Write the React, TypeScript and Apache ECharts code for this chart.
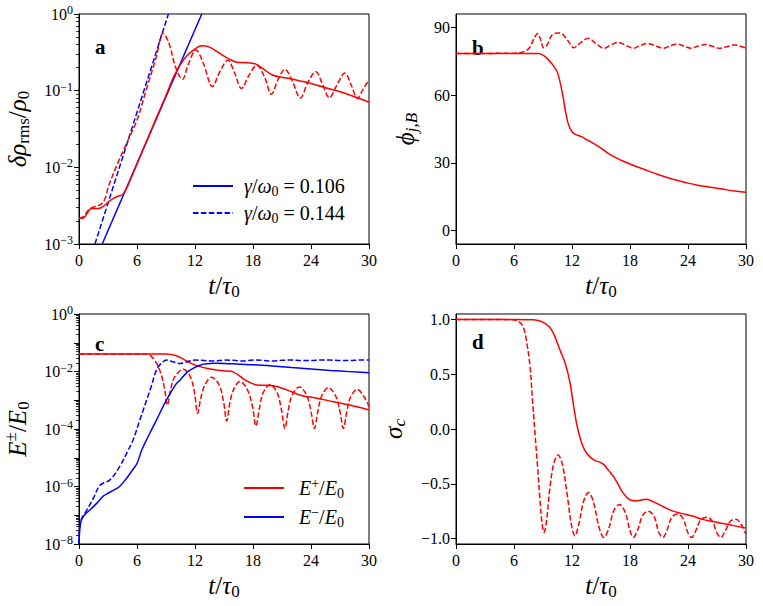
import React, { useEffect, useRef } from "react";
import * as echarts from "echarts";

// ---------- Panel a: delta rho_rms / rho_0 (log) ----------
const aSolidT = [0, 0.5, 1.0, 1.3, 2.0, 2.5, 3.0, 3.5, 4.0, 4.5, 5.0, 6, 7, 8, 9, 10, 11, 12, 12.7, 13.5, 14.5, 15.5, 16.5, 17.5, 18.3, 19, 20, 21, 22, 23, 24, 25, 26, 27, 28, 29, 30];
const aSolidV = [2.16e-3, 2.2e-3, 2.7e-3, 2.9e-3, 2.9e-3, 3.1e-3, 3.5e-3, 3.9e-3, 4.2e-3, 4.4e-3, 5.6e-3, 1.11e-2, 2.21e-2, 4.38e-2, 8.67e-2, 0.172, 0.27, 0.35, 0.385, 0.37, 0.31, 0.26, 0.233, 0.232, 0.222, 0.195, 0.16, 0.15, 0.142, 0.133, 0.124, 0.114, 0.105, 0.097, 0.088, 0.079, 0.0705];
const aDashT = [0, 0.5, 1.0, 1.7, 2.3, 2.8, 3.0, 4.0, 5.0, 6.0, 7.0, 8.0, 8.7, 9.3, 10.0, 10.7, 11.3, 12.1, 12.9, 13.8, 14.6, 15.4, 16.1, 16.8, 17.6, 18.4, 19.2, 19.9, 20.6, 21.3, 22.1, 22.9, 23.7, 24.5, 25.2, 25.9, 26.7, 27.5, 28.2, 28.8, 29.4, 30];
const aDashV = [2.16e-3, 2.3e-3, 2.8e-3, 3.1e-3, 3.3e-3, 4.2e-3, 5.4e-3, 1.13e-2, 2.16e-2, 4.14e-2, 0.107, 0.277, 0.56, 0.42, 0.2, 0.14, 0.22, 0.34, 0.22, 0.113, 0.18, 0.25, 0.17, 0.107, 0.16, 0.215, 0.15, 0.09, 0.14, 0.19, 0.13, 0.08, 0.13, 0.177, 0.12, 0.081, 0.12, 0.17, 0.115, 0.079, 0.105, 0.138];
const fit106T = [2.4, 12.7];
const fit106V = [1e-3, 1];
const fit144T = [1.65, 9.25];
const fit144V = [1e-3, 1];

// ---------- Panel b: phi_{j,B} ----------
const bSolidT = [0, 8.5, 9.0, 9.5, 10.0, 10.5, 11.0, 11.3, 11.6, 12.0, 12.4, 13.0, 13.5, 14, 15, 16, 17, 18, 19, 20, 21, 22, 23, 24, 25, 26, 27, 28, 29, 30];
const bSolidV = [78.5, 78.5, 77.8, 76.0, 73.5, 70.0, 61.0, 53.5, 47.5, 43.8, 42.5, 41.6, 40.3, 39.2, 36.5, 33.5, 31.3, 29.5, 27.8, 26.2, 24.7, 23.3, 22.1, 21.0, 20.1, 19.4, 18.7, 18.0, 17.4, 16.9];
const bDashT = [0, 6, 7, 7.6, 8.1, 8.45, 8.8, 9.05, 9.4, 9.9, 10.5, 11.0, 11.6, 12.2, 12.9, 13.7, 14.5, 15.3, 16.0, 16.8, 17.6, 18.35, 19.0, 19.8, 20.6, 21.45, 22.1, 22.9, 23.6, 24.3, 25.0, 25.8, 26.5, 27.2, 28.0, 28.9, 29.5, 30];
const bDashV = [78.5, 78.6, 79.3, 81, 85.5, 87.4, 84, 81, 82, 86.5, 87.6, 87.2, 84, 81, 83.3, 85.2, 82.8, 80.8, 82.2, 83.4, 82, 80.8, 81.9, 83, 81.9, 80.8, 81.8, 82.7, 81.7, 80.8, 81.7, 82.5, 81.7, 80.8, 81.5, 82.3, 81.6, 80.9];

// ---------- Panel c: E+/E0 and E-/E0 (log) ----------
const cPlusT = [0, 9, 10, 10.8, 11.5, 12.5, 13.2, 14.2, 15.0, 16.0, 17.2, 18.4, 19.3, 20.1, 21.5, 22.9, 24.5, 26.3, 28, 30];
const cPlusV = [0.0405, 0.0405, 0.036, 0.027, 0.02, 0.0148, 0.0129, 0.0112, 0.0105, 0.0095, 0.005, 0.0034, 0.0033, 0.0032, 0.0023, 0.0015, 0.0012, 0.00089, 0.00068, 0.00046];
const cPlusDashT = [0, 7.0, 7.5, 8.0, 8.5, 8.85, 9.15, 9.45, 9.9, 10.8, 11.5, 11.95, 12.27, 12.6, 13.0, 13.7, 14.5, 14.95, 15.28, 15.6, 16.0, 16.65, 17.4, 17.95, 18.3, 18.65, 19.05, 19.76, 20.5, 20.95, 21.3, 21.65, 22.05, 22.8, 23.55, 24.0, 24.35, 24.7, 25.1, 25.8, 26.55, 27.0, 27.35, 27.7, 28.1, 28.8, 29.5, 30];
const cPlusDashV = [0.0405, 0.0405, 0.033, 0.02, 0.008, 0.0025, 0.00068, 0.0022, 0.0065, 0.012, 0.0068, 0.0018, 0.00035, 0.0012, 0.0033, 0.0063, 0.0034, 0.0009, 0.00019, 0.0008, 0.0024, 0.0045, 0.0024, 0.0006, 0.000126, 0.0005, 0.0018, 0.0035, 0.0018, 0.00045, 0.000105, 0.00045, 0.0015, 0.0029, 0.0015, 0.0004, 0.000105, 0.0004, 0.0014, 0.00275, 0.0014, 0.0004, 0.000105, 0.0004, 0.0013, 0.0024, 0.0013, 0.0006];
const cMinusT = [0, 0.05, 0.15, 0.3, 0.6, 1.0, 1.5, 2.0, 2.5, 3.0, 3.5, 4.2, 5.0, 5.5, 6.0, 6.5, 7.0, 7.5, 8.0, 9.0, 10.0, 10.45, 11.2, 11.8, 12.5, 13.2, 14.0, 15, 16, 18, 20, 22, 24, 26, 28, 30];
const cMinusV = [1e-8, 2.5e-8, 5e-8, 7.5e-8, 1.05e-7, 1.4e-7, 2.0e-7, 3.0e-7, 4.6e-7, 5.8e-7, 7.2e-7, 1.0e-6, 2.1e-6, 3.6e-6, 6.3e-6, 1.9e-5, 4.3e-5, 9.3e-5, 2e-4, 9.5e-4, 3.5e-3, 5e-3, 9.5e-3, 0.0129, 0.0165, 0.0185, 0.0192, 0.019, 0.0185, 0.0172, 0.0155, 0.0137, 0.0123, 0.0109, 0.0099, 0.0091];
const cMinusDashT = [0, 0.05, 0.15, 0.3, 0.8, 1.5, 2.17, 3.2, 4.2, 5.0, 5.6, 6.3, 7.0, 7.5, 8.0, 8.5, 9.07, 9.7, 10.45, 11.2, 12, 13, 14, 15, 16, 17, 18, 19, 20, 21, 22, 23, 24, 25, 26, 27, 28, 29, 30];
const cMinusDashV = [1e-8, 2.7e-8, 5.5e-8, 8e-8, 1.5e-7, 4e-7, 1.1e-6, 1.7e-6, 4.9e-6, 1.6e-5, 4.2e-5, 2.1e-4, 1.02e-3, 3.2e-3, 0.0112, 0.019, 0.025, 0.022, 0.019, 0.022, 0.025, 0.024, 0.023, 0.025, 0.0245, 0.023, 0.025, 0.0245, 0.023, 0.0245, 0.025, 0.024, 0.024, 0.025, 0.025, 0.024, 0.024, 0.025, 0.025];

// ---------- Panel d: sigma_c ----------
const dSolidT = [0, 8.0, 8.5, 9.0, 9.7, 10.2, 10.76, 11.3, 11.8, 12.15, 12.5, 12.9, 13.3, 13.8, 14.3, 14.8, 15.3, 15.8, 16.3, 16.8, 17.3, 17.8, 18.35, 19.0, 19.7, 20.5, 21.4, 22.3, 23.2, 24.5, 25.5, 26.6, 28.3, 30];
const dSolidV = [1.0, 0.998, 0.99, 0.975, 0.93, 0.85, 0.72, 0.6, 0.42, 0.22, 0.04, -0.1, -0.19, -0.25, -0.285, -0.3, -0.325, -0.38, -0.435, -0.51, -0.586, -0.635, -0.656, -0.652, -0.641, -0.668, -0.708, -0.745, -0.768, -0.795, -0.825, -0.845, -0.875, -0.905];
const dDashT = [0, 5.9, 6.5, 6.96, 7.3, 7.66, 7.9, 8.17, 8.45, 8.69, 8.9, 9.1, 9.35, 9.7, 10.1, 10.55, 11.0, 11.5, 11.95, 12.3, 12.7, 13.2, 13.7, 14.2, 14.8, 15.3, 15.8, 16.3, 16.9, 17.5, 18.0, 18.35, 18.8, 19.3, 19.9, 20.5, 21.0, 21.4, 21.8, 22.3, 22.9, 23.5, 24.0, 24.38, 24.8, 25.3, 25.93, 26.5, 27.0, 27.4, 27.85, 28.4, 28.97, 29.5, 30];
const dDashV = [1.0, 0.998, 0.98, 0.93, 0.8, 0.57, 0.28, -0.04, -0.36, -0.65, -0.86, -0.945, -0.85, -0.55, -0.32, -0.237, -0.32, -0.6, -0.88, -0.975, -0.87, -0.66, -0.58, -0.66, -0.9, -0.99, -0.91, -0.75, -0.69, -0.76, -0.93, -0.99, -0.92, -0.79, -0.75, -0.8, -0.95, -0.99, -0.93, -0.81, -0.775, -0.82, -0.95, -0.99, -0.93, -0.83, -0.805, -0.84, -0.95, -0.99, -0.93, -0.84, -0.823, -0.87, -0.96];

// ---------- Tick values ----------
const bTicks = [0, 30, 60, 90];
const dTicks = [-1.0, -0.5, 0.0, 0.5, 1.0];
const minorMantissas = [2, 3, 4, 5, 6, 7, 8, 9];
const aDecades = [-3, -2, -1];
const cDecades = [-8, -7, -6, -5, -4, -3, -2, -1];

const FONT = "'Liberation Serif', 'DejaVu Serif', serif";
const RED = "#ff0000";
const BLUE = "#0000ff";
const DASH = [5.5, 2.4];

const zip = (t: number[], v: number[]) => t.map((x, i) => [x, v[i]]);
const minorLogPositions = (decades: number[]) =>
  decades.flatMap((d) => minorMantissas.map((m) => d + Math.log10(m)));

const NS = 25; // axis-name font size
const nameRich = {
  i: { fontFamily: FONT, fontStyle: "italic", fontSize: NS, lineHeight: 30, color: "#000" },
  n: { fontFamily: FONT, fontSize: NS, lineHeight: 30, color: "#000" },
  s: { fontFamily: FONT, fontSize: 17, lineHeight: 19, verticalAlign: "bottom", color: "#000" },
  si: { fontFamily: FONT, fontStyle: "italic", fontSize: 17, lineHeight: 19, verticalAlign: "bottom", color: "#000" },
  sup: { fontFamily: FONT, fontSize: 17, lineHeight: 19, verticalAlign: "top", color: "#000" },
};

const logRich = {
  b: { fontFamily: FONT, fontSize: 16, lineHeight: 20, color: "#000" },
  e: { fontFamily: FONT, fontSize: 12, lineHeight: 12, verticalAlign: "top", color: "#000" },
};

const logFmt = (onlyEven: boolean) => (v: number) => {
  const e = Math.round(Math.log10(v));
  if (onlyEven && e % 2 !== 0) return "";
  return `{b|10}{e|${e < 0 ? "\u2212" + -e : e}}`;
};

const grids = [
  { left: 79, top: 14, width: 290, height: 230 },
  { left: 456, top: 14, width: 290, height: 230 },
  { left: 79, top: 314, width: 290, height: 230 },
  { left: 456, top: 314, width: 290, height: 230 },
];

export default function App() {
  const ref = useRef<HTMLDivElement>(null);
  useEffect(() => {
    if (!ref.current) return;
    const chart = echarts.init(ref.current, null, { renderer: "svg" });

    const axisLine = { show: true, onZero: false, lineStyle: { color: "#000", width: 1 } };
    const axisTick = { show: true, length: 5, lineStyle: { color: "#000", width: 1 } };
    const tickLabel = { color: "#000", fontFamily: FONT, fontSize: 16 };

    const xAxes = grids.map((_, gi) => ({
      type: "value",
      gridIndex: gi,
      min: 0,
      max: 30,
      interval: 6,
      axisLine,
      axisTick,
      splitLine: { show: false },
      axisLabel: { ...tickLabel, margin: 8 },
      name: "{i|t}{n|/}{i|τ}{s|0}",
      nameLocation: "middle",
      nameGap: 26,
      nameTextStyle: { rich: nameRich },
    }));

    const minorAxis = (gi: number, lo: number, decades: number[]) => ({
      type: "value",
      gridIndex: gi,
      min: lo,
      max: 0,
      position: "left",
      axisLine: { show: false },
      axisTick: { show: true, length: 3, lineStyle: { color: "#000", width: 0.8 }, customValues: minorLogPositions(decades) },
      axisLabel: { show: false },
      splitLine: { show: false },
    });

    const yAxes = [
      {
        type: "log",
        gridIndex: 0,
        min: 1e-3,
        max: 1,
        logBase: 10,
        axisLine,
        axisTick,
        splitLine: { show: false },
        axisLabel: { formatter: logFmt(false), rich: logRich, margin: 6 },
        name: "{i|δρ}{s|rms}{n|/}{i|ρ}{s|0}",
        nameLocation: "middle",
        nameRotate: 90,
        nameGap: 47,
        nameTextStyle: { rich: nameRich },
      },
      {
        type: "value",
        gridIndex: 1,
        min: -6,
        max: 96,
        axisLine,
        axisTick: { ...axisTick, customValues: bTicks },
        splitLine: { show: false },
        axisLabel: { ...tickLabel, margin: 6, customValues: bTicks },
        name: "{i|ϕ}{si|j,B}",
        nameLocation: "middle",
        nameRotate: 90,
        nameGap: 36,
        nameTextStyle: { rich: nameRich },
      },
      {
        type: "log",
        gridIndex: 2,
        min: 1e-8,
        max: 1,
        logBase: 10,
        axisLine,
        axisTick,
        splitLine: { show: false },
        axisLabel: { formatter: logFmt(true), rich: logRich, margin: 6 },
        name: "{i|E}{sup|±}{n|/}{i|E}{s|0}",
        nameLocation: "middle",
        nameRotate: 90,
        nameGap: 47,
        nameTextStyle: { rich: nameRich },
      },
      {
        type: "value",
        gridIndex: 3,
        min: -1.05,
        max: 1.05,
        axisLine,
        axisTick: { ...axisTick, customValues: dTicks },
        splitLine: { show: false },
        axisLabel: {
          ...tickLabel,
          margin: 6,
          customValues: dTicks,
          formatter: (v: number) => (v < -1e-9 ? "\u2212" : "") + Math.abs(v).toFixed(1),
        },
        name: "{i|σ}{si|c}",
        nameLocation: "middle",
        nameRotate: 90,
        nameGap: 48,
        nameTextStyle: { rich: nameRich },
      },
      minorAxis(0, -3, aDecades),
      minorAxis(2, -8, cDecades),
    ];

    const line = (name: string, gi: number, data: number[][], color: string, dashed: boolean, z = 2) => ({
      type: "line",
      name,
      xAxisIndex: gi,
      yAxisIndex: gi,
      data,
      symbol: "none",
      smooth: 0.35,
      z,
      lineStyle: { color, width: 1.5, type: dashed ? DASH : "solid" },
      itemStyle: { color },
    });

    const series = [
      { ...line("fit106", 0, zip(fit106T, fit106V), BLUE, false), smooth: false },
      { ...line("fit144", 0, zip(fit144T, fit144V), BLUE, true), smooth: false },
      line("aSolid", 0, zip(aSolidT, aSolidV), RED, false, 3),
      line("aDash", 0, zip(aDashT, aDashV), RED, true, 3),
      line("bSolid", 1, zip(bSolidT, bSolidV), RED, false),
      line("bDash", 1, zip(bDashT, bDashV), RED, true),
      line("Eplus", 2, zip(cPlusT, cPlusV), RED, false),
      line("EplusDash", 2, zip(cPlusDashT, cPlusDashV), RED, true),
      line("Eminus", 2, zip(cMinusT, cMinusV), BLUE, false),
      line("EminusDash", 2, zip(cMinusDashT, cMinusDashV), BLUE, true),
      line("dSolid", 3, zip(dSolidT, dSolidV), RED, false),
      line("dDash", 3, zip(dDashT, dDashV), RED, true),
    ];

    const LS = 20;
    const legRich = {
      g: { width: 6 },
      g2: { width: 10 },
      i: { fontFamily: FONT, fontStyle: "italic", fontSize: LS, lineHeight: 24, color: "#000" },
      n: { fontFamily: FONT, fontSize: LS, lineHeight: 24, color: "#000" },
      s: { fontFamily: FONT, fontSize: 14, lineHeight: 14, verticalAlign: "bottom", color: "#000" },
      sup: { fontFamily: FONT, fontSize: 14, lineHeight: 14, verticalAlign: "top", color: "#000" },
    };
    const legendNames: Record<string, string> = {
      fit106: "{g|}{i|γ}{n|/}{i|ω}{s|0}{n| = 0.106}",
      fit144: "{g|}{i|γ}{n|/}{i|ω}{s|0}{n| = 0.144}",
      Eplus: "{g2|}{i|E}{sup|+}{n|/}{i|E}{s|0}",
      Eminus: "{g2|}{i|E}{sup|\u2212}{n|/}{i|E}{s|0}",
    };

    const legendBase = {
      orient: "vertical",
      itemWidth: 40,
      itemHeight: 14,
      itemGap: 5,
      padding: 0,
      selectedMode: false,
      itemStyle: { opacity: 0, borderWidth: 0 },
      formatter: (n: string) => legendNames[n] || n,
      textStyle: { fontFamily: FONT, rich: legRich },
    };

    const panelLabel = (text: string, x: number, y: number) => ({
      type: "text",
      x,
      y,
      style: {
        text,
        font: `bold 21px ${FONT}`,
        fill: "#000",
        verticalAlign: "middle",
        align: "left",
      },
    });

    chart.setOption({
      animation: false,
      backgroundColor: "#fff",
      textStyle: { fontFamily: FONT, color: "#000" },
      grid: grids.map((g) => ({
        ...g,
        show: true,
        borderColor: "#000",
        borderWidth: 1,
        backgroundColor: "transparent",
        containLabel: false,
        outerBoundsMode: "none",
      })),
      xAxis: xAxes,
      yAxis: yAxes,
      legend: [
        { ...legendBase, data: ["fit106", "fit144"], left: 192, top: 176 },
        { ...legendBase, data: ["Eplus", "Eminus"], left: 243, top: 476 },
      ],
      series,
      graphic: [
        panelLabel("a", 95, 47),
        panelLabel("b", 472, 48),
        panelLabel("c", 95, 344),
        panelLabel("d", 472, 342),
      ],
    });
    return () => chart.dispose();
  }, []);
  return (
    <div
      ref={ref}
      style={{ position: "absolute", left: 0, top: 0, width: 763, height: 606 }}
    />
  );
}
